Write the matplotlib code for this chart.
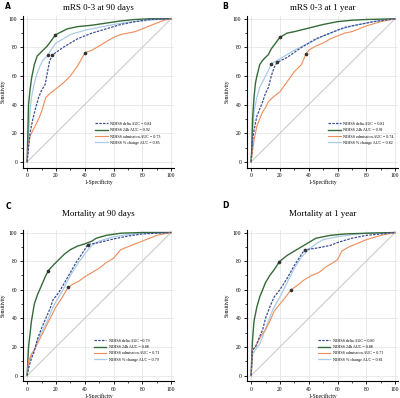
import matplotlib
matplotlib.use("Agg")
import matplotlib.pyplot as plt

plt.rcParams['font.family'] = ['Liberation Serif', 'DejaVu Serif']

# ---- panel A: mRS 0-3 at 90 days ----
a_delta_x = [0, 1, 2, 4, 6, 8, 10, 12.5, 14, 15.5, 17.4, 25, 35, 45, 55, 65, 75, 85, 100]
a_delta_y = [0, 10, 20, 30, 38, 45, 50, 54, 62, 70, 74.6, 80, 86, 90, 93, 96, 98, 99.5, 100]
a_24h_x = [0, 0.5, 1, 2, 3, 5, 7, 10, 14, 17, 19.7, 24, 28, 35, 45, 55, 65, 75, 85, 100]
a_24h_y = [0, 20, 40, 50, 58, 68, 74, 77, 81, 85, 88.8, 91, 93, 94.5, 95.5, 97, 98.5, 99.5, 100, 100]
a_adm_x = [0, 1, 2, 4, 6, 8, 10, 13, 16, 20, 25, 30, 35, 40.3, 45, 50, 55, 60, 65, 70, 75, 80, 85, 90, 95, 100]
a_adm_y = [0, 12, 18, 22, 26, 30, 35, 45, 48, 51, 55, 60, 67, 76.4, 78, 81, 84, 87, 89, 90, 91, 93, 95, 97, 99, 100]
a_pct_x = [0, 1, 2, 3, 5, 7, 9, 11, 14.4, 17, 20, 25, 30, 40, 50, 60, 70, 80, 90, 100]
a_pct_y = [0, 20, 35, 45, 55, 62, 67, 71, 74.6, 79, 83, 86, 89, 92, 94, 96, 97.5, 98.5, 99.5, 100]
a_labels = ['NIHSS delta AUC = 0.84', 'NIHSS 24h AUC = 0.92',
            'NIHSS admission AUC = 0.73', 'NIHSS % change AUC = 0.85']

# ---- panel B: mRS 0-3 at 1 year ----
b_delta_x = [0, 1, 2, 4, 6, 8, 10, 12, 14, 16, 18, 25, 35, 45, 55, 65, 75, 85, 100]
b_delta_y = [0, 15, 22, 32, 37, 42, 48, 52, 60, 66, 69.5, 73, 80, 86, 90, 94, 96, 98, 100]
b_24h_x = [0, 0.5, 1, 2, 3, 4, 6, 8, 10, 12, 14, 17, 19.9, 25, 30, 40, 50, 60, 70, 80, 100]
b_24h_y = [0, 10, 30, 45, 55, 60, 68, 71, 73, 75, 79, 83, 87, 90, 91, 93.5, 96, 98, 99, 99.5, 100]
b_adm_x = [0, 1, 2, 4, 6, 8, 10, 12, 15, 20, 25, 30, 35, 38, 40, 45, 50, 55, 60, 65, 70, 75, 80, 90, 100]
b_adm_y = [0, 8, 15, 25, 30, 35, 38, 42, 45, 49, 56, 63, 68, 75.3, 78, 81, 83, 86, 88, 90, 91, 93, 95, 98, 100]
b_pct_x = [0, 1, 2, 4, 6, 8, 10, 12, 14, 20, 30, 40, 50, 60, 70, 80, 90, 100]
b_pct_y = [0, 20, 35, 45, 52, 56, 60, 64, 68.6, 72, 78, 83, 88, 92, 95, 97, 99, 100]
b_labels = ['NIHSS delta AUC = 0.81', 'NIHSS 24h AUC = 0.91',
            'NIHSS admission AUC = 0.74', 'NIHSS % change AUC = 0.82']

# ---- panel C: Mortality at 90 days ----
c_delta_x = [0, 1, 3, 5, 7, 10, 13, 16, 18, 22, 26, 30, 34, 38, 42.2, 50, 60, 70, 80, 90, 100]
c_delta_y = [0, 5, 12, 17, 25, 33, 40, 47, 53, 58, 65, 72, 79, 85, 91.6, 93, 95.5, 97.5, 99, 99.5, 100]
c_24h_x = [0, 0.5, 1, 3, 5, 7, 10, 13, 14.8, 18, 22, 26, 30, 35, 40, 45, 48, 55, 65, 80, 100]
c_24h_y = [0, 10, 20, 38, 50, 56, 63, 70, 73.4, 77, 81, 85, 88, 90.5, 92, 94, 96, 98, 99.5, 100, 100]
c_adm_x = [0, 1, 3, 5, 7, 10, 13, 16, 20, 24, 28.5, 32, 36, 40, 45, 50, 55, 60, 65, 70, 75, 80, 85, 90, 100]
c_adm_y = [0, 10, 15, 18, 22, 28, 34, 40, 48, 54, 61.7, 64, 66, 69, 72, 75, 79, 82, 88, 90, 92, 94, 96, 98, 100]
c_pct_x = [0, 1, 3, 5, 7, 10, 14, 18, 22, 26, 30, 35, 40, 45, 50, 60, 70, 80, 100]
c_pct_y = [0, 8, 14, 18, 24, 30, 38, 48, 55, 62, 70, 78, 85, 91, 94, 97, 98.5, 99.5, 100]
c_labels = ['NIHSS delta AUC =0.79', 'NIHSS 24h AUC = 0.88',
            'NIHSS admission AUC = 0.71', 'NIHSS % change AUC = 0.79']

# ---- panel D: Mortality at 1 year ----
d_delta_x = [0, 1, 3, 5, 8, 10, 13, 16, 20, 25, 30, 37.1, 45, 55, 60, 70, 80, 90, 100]
d_delta_y = [0, 18, 20, 25, 32, 40, 48, 55, 60, 68, 77, 88, 89, 91, 93, 96, 98, 99, 100]
d_24h_x = [0, 0.5, 1, 2, 4, 6, 8, 10, 13, 16, 19.6, 25, 30, 35, 40, 45, 55, 65, 80, 100]
d_24h_y = [0, 15, 25, 38, 48, 55, 60, 65, 70, 74, 79.6, 84, 87, 90, 93, 96, 98, 99, 99.5, 100]
d_adm_x = [0, 1, 3, 5, 7, 10, 13, 16, 20, 24, 27.6, 32, 37, 42, 47, 52, 57, 60, 63, 68, 73, 80, 90, 100]
d_adm_y = [0, 18, 20, 24, 28, 32, 38, 45, 50, 55, 59.8, 63, 67, 70, 72, 76, 79, 81, 87, 90, 92, 95, 98, 100]
d_pct_x = [0, 1, 3, 6, 9, 12, 15, 20, 25, 30, 35, 40, 45, 50, 60, 70, 80, 100]
d_pct_y = [0, 15, 18, 22, 30, 38, 46, 55, 65, 75, 83, 88, 92, 95, 97, 98.5, 99.5, 100]
d_labels = ['NIHSS delta AUC = 0.80', 'NIHSS 24h AUC = 0.88',
            'NIHSS admission AUC = 0.71', 'NIHSS % change AUC = 0.81']

# optimal cut-off points (delta, 24h, admission, % change)
a_cut = [(17.4, 74.6), (19.7, 88.8), (40.3, 76.4), (14.4, 74.6)]
b_cut = [(18, 69.5), (19.9, 87), (38, 75.3), (14, 68.6)]
c_cut = [(42.2, 91.6), (14.8, 73.4), (28.5, 61.7)]
d_cut = [(37.1, 88), (19.6, 79.6), (27.6, 59.8)]

titles = ['mRS 0-3 at 90 days', 'mRS 0-3 at 1 year', 'Mortality at 90 days', 'Mortality at 1 year']
letters = ['A', 'B', 'C', 'D']

col_delta = '#3d4f95'
col_24h = '#356b38'
col_adm = '#ee8d5a'
col_pct = '#a9cbe8'

fig = plt.figure(figsize=(4.0, 3.98), dpi=100)
boxes = [[0.057, 0.579, 0.378, 0.381], [0.617, 0.579, 0.378, 0.381],
         [0.057, 0.042, 0.378, 0.381], [0.617, 0.042, 0.378, 0.381]]
leg_pos = [(0.48, 0.15), (0.54, 0.15), (0.47, 0.13), (0.47, 0.13)]
letter_x = [-0.115, -0.16, -0.115, -0.16]
letter_y = [1.065, 1.065, 1.15, 1.16]
title_pad = [4, 4, 10, 10]

panels = [
    (a_delta_x, a_delta_y, a_24h_x, a_24h_y, a_adm_x, a_adm_y, a_pct_x, a_pct_y, a_labels, a_cut),
    (b_delta_x, b_delta_y, b_24h_x, b_24h_y, b_adm_x, b_adm_y, b_pct_x, b_pct_y, b_labels, b_cut),
    (c_delta_x, c_delta_y, c_24h_x, c_24h_y, c_adm_x, c_adm_y, c_pct_x, c_pct_y, c_labels, c_cut),
    (d_delta_x, d_delta_y, d_24h_x, d_24h_y, d_adm_x, d_adm_y, d_pct_x, d_pct_y, d_labels, d_cut),
]

for i, p in enumerate(panels):
    dx, dy, gx, gy, ox, oy, px, py, labels, cuts = p
    ax = fig.add_axes(boxes[i])
    ax.plot([0, 100], [0, 100], color='#cccccc', lw=0.8, zorder=1)
    ax.plot(dx, dy, color=col_delta, lw=0.9, ls=(0, (2, 1)), label=labels[0], zorder=4)
    ax.plot(gx, gy, color=col_24h, lw=1.0, label=labels[1], zorder=3)
    ax.plot(ox, oy, color=col_adm, lw=0.8, label=labels[2], zorder=3)
    ax.plot(px, py, color=col_pct, lw=0.9, label=labels[3], zorder=2)
    for cx, cy in cuts:
        ax.plot(cx, cy, 'o', color='#333333', ms=1.6, zorder=5)

    ax.set_xlim(-3, 102)
    ax.set_ylim(-4, 102)
    ax.set_xticks(range(0, 101, 20))
    ax.set_yticks(range(0, 101, 20))
    ax.set_xticks(range(10, 100, 20), minor=True)
    ax.set_yticks(range(10, 100, 20), minor=True)
    ax.grid(True, which='major', color='#e2e2e2', lw=0.5)
    ax.set_axisbelow(True)
    for s in ['top', 'right']:
        ax.spines[s].set_visible(False)
    for s in ['left', 'bottom']:
        ax.spines[s].set_linewidth(0.8)
    ax.tick_params(which='major', direction='out', length=2.5, width=0.6, labelsize=4, pad=1.5)
    ax.tick_params(which='minor', direction='out', length=1.3, width=0.5)
    ax.set_xlabel('1-Specificity', fontsize=4, labelpad=1)
    ax.set_ylabel('Sensitivity', fontsize=4, labelpad=2)
    ax.set_title(titles[i], fontsize=6.5, pad=title_pad[i])
    ax.text(letter_x[i], letter_y[i], letters[i], transform=ax.transAxes, fontsize=5.5,
            fontweight='bold', family='DejaVu Sans', va='center')
    ax.legend(loc='lower left', bbox_to_anchor=leg_pos[i], frameon=False, fontsize=3,
              handlelength=3, handletextpad=0.6, labelspacing=0.55, borderpad=0, borderaxespad=0)

fig.savefig('out.png', dpi=100)
